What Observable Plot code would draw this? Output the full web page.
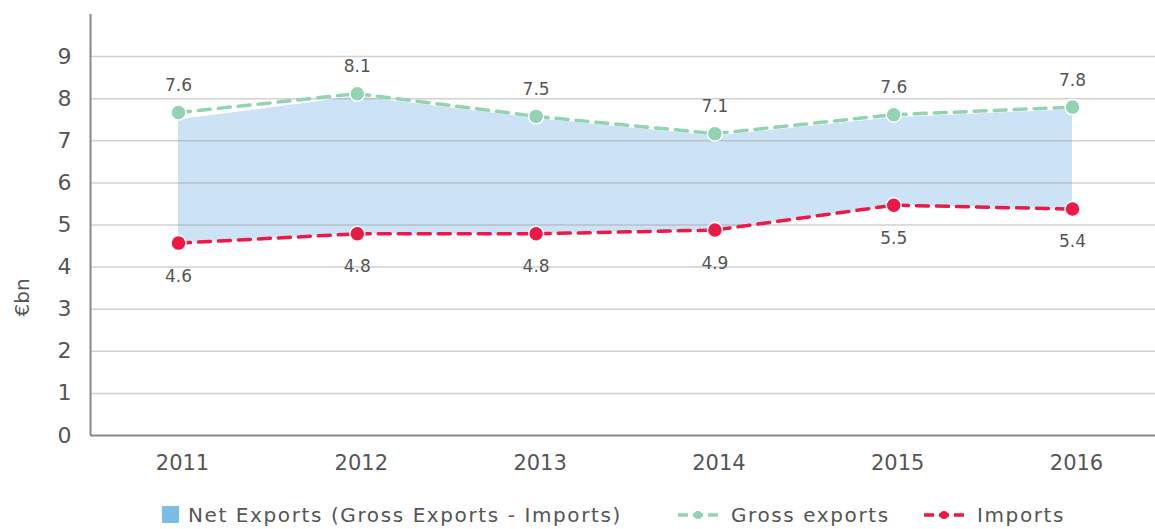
<!DOCTYPE html>
<html>
<head>
<meta charset="utf-8">
<script src="https://cdn.jsdelivr.net/npm/d3@7"></script>
<script src="https://cdn.jsdelivr.net/npm/@observablehq/plot@0.6"></script>
<style>
  html, body { margin: 0; padding: 0; background: #fff; }
  body { width: 1155px; height: 529px; overflow: hidden; font-family: "DejaVu Sans", sans-serif; color: #555; }
  #legend { position: relative; height: 47px; font-size: 20px; color: #555; }
  .item { display: flex; align-items: center; position: absolute; top: 18px; height: 30px; }
</style>
</head>
<body>
<div id="chart"></div>
<div id="legend"></div>
<script>
const years = [2011, 2012, 2013, 2014, 2015, 2016];
const grossExports = [7.67, 8.12, 7.58, 7.17, 7.62, 7.80];
const imports = [4.57, 4.79, 4.79, 4.88, 5.47, 5.38];
const netExports = [2.93, 3.26, 2.74, 2.23, 2.08, 2.36];
const exportLabels = ["7.6", "8.1", "7.5", "7.1", "7.6", "7.8"];
const importLabels = ["4.6", "4.8", "4.8", "4.9", "5.5", "5.4"];
const yTicks = [0, 1, 2, 3, 4, 5, 6, 7, 8, 9];
const gridTicks = [1, 2, 3, 4, 5, 6, 7, 8, 9];

const green = "#93d3b1";
const red = "#ec1846";
const areaFill = "#cce3f5";
const swatch = "#7bbde8";

const rows = years.map((year, i) => ({
  year,
  exp: grossExports[i],
  imp: imports[i],
  net: netExports[i],
  expLabel: exportLabels[i],
  impLabel: importLabels[i]
}));

const font = "DejaVu Sans, sans-serif";

const chart = Plot.plot({
  width: 1155,
  height: 482,
  marginLeft: 90,
  marginRight: 0,
  marginTop: 14,
  marginBottom: 47,
  style: { fontFamily: font, fontSize: "20px", color: "#555", background: "#fff" },
  x: { type: "linear", domain: [2010.5, 2016.5], range: [88.6, 1161.4] },
  y: { domain: [0, 10] },
  marks: [
    Plot.areaY(rows, { x: "year", y1: "imp", y2: d => d.imp + d.net, fill: areaFill, curve: "linear" }),
    Plot.ruleY(gridTicks, { stroke: "#999", strokeOpacity: 0.45, strokeWidth: 1.5 }),
    Plot.ruleY([0], { stroke: "#888", strokeWidth: 2 }),
    Plot.ruleX([2010.5], { y1: 0, y2: 10, dx: 1.4, stroke: "#888", strokeWidth: 2 }),
    Plot.axisY({ ticks: yTicks, tickSize: 0, tickPadding: 19, fontSize: 22, fill: "#555", label: null, tickFormat: d => String(d) }),
    Plot.axisX({ ticks: years, tickSize: 0, tickPadding: 20, dx: 4, fontSize: 21, fill: "#555", label: null, tickFormat: d => String(d) }),
    Plot.text(["€bn"], { x: () => 2010.5, y: () => 3.28, dx: -67, rotate: -90, fontSize: 20, fill: "#555" }),
    Plot.line(rows, { x: "year", y: "exp", stroke: green, strokeWidth: 3.5, strokeDasharray: "12,8" }),
    Plot.line(rows, { x: "year", y: "imp", stroke: red, strokeWidth: 3.5, strokeDasharray: "12,8" }),
    Plot.dot(rows, { x: "year", y: "exp", r: 7.5, fill: green, stroke: "#fff", strokeWidth: 1.5 }),
    Plot.dot(rows, { x: "year", y: "imp", r: 7.5, fill: red, stroke: "#fff", strokeWidth: 1.5 }),
    Plot.text(rows, { x: "year", y: "exp", text: "expLabel", dy: -27, fontSize: 17, fill: "#555" }),
    Plot.text(rows, { x: "year", y: "imp", text: "impLabel", dy: 33, fontSize: 17, fill: "#555" })
  ]
});
document.getElementById("chart").appendChild(chart);

// Legend
const legendItems = [
  { label: "Net Exports (Gross Exports - Imports)", kind: "swatch", color: swatch, left: 162 },
  { label: "Gross exports", kind: "line", color: green, left: 677 },
  { label: "Imports", kind: "line", color: red, left: 923 }
];
const legend = document.getElementById("legend");
for (const it of legendItems) {
  const div = document.createElement("div");
  div.className = "item";
  div.style.left = it.left + "px";
  let sym;
  if (it.kind === "swatch") {
    sym = `<svg width="26" height="18" style="display:block"><rect x="0" y="0" width="17" height="17" fill="${it.color}"/></svg>`;
  } else {
    sym = `<svg width="54" height="18" style="display:block"><line x1="1" y1="9" x2="41" y2="9" stroke="${it.color}" stroke-width="3.5" stroke-dasharray="10,5"/><circle cx="21" cy="9" r="4" fill="${it.color}"/></svg>`;
  }
  div.innerHTML = sym + `<span style="font-size:20px;color:#555;letter-spacing:1.6px">${it.label}</span>`;
  legend.appendChild(div);
}
</script>
</body>
</html>
